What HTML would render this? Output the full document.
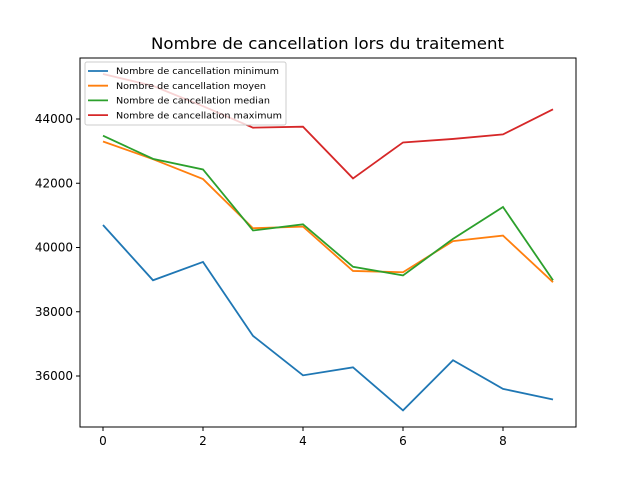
<!DOCTYPE html>
<html><head><meta charset="utf-8"><style>
body{margin:0;background:#fff;font-family:"DejaVu Sans","Liberation Sans",sans-serif}
svg text{font-family:"DejaVu Sans","Liberation Sans",sans-serif}
</style></head><body>
<svg id="c" width="640" height="480" xmlns="http://www.w3.org/2000/svg"></svg>
<script>
const xCats=[0,1,2,3,4,5,6,7,8,9];
const minimum=[40700,38980,39550,37250,36020,36270,34930,36490,35600,35270];
const moyen=[43300,42750,42130,40600,40650,39270,39230,40200,40370,38920];
const median=[43480,42760,42430,40530,40720,39400,39130,40270,41260,38980];
const maximum=[45400,45030,44400,43730,43760,42150,43270,43380,43520,44300];
const xTicks=[0,2,4,6,8];
const yTicks=[36000,38000,40000,42000,44000];
const seriesNames=["Nombre de cancellation minimum","Nombre de cancellation moyen","Nombre de cancellation median","Nombre de cancellation maximum"];
const legendWidths=[163,150,154,166];
const colors=["#1f77b4","#ff7f0e","#2ca02c","#d62728"];
const svg=document.getElementById('c');const NS="http://www.w3.org/2000/svg";
const L=80,R=576,T=58,B=427;
const xs=v=>103+v*50;
const ys=v=>119-(v-44000)*0.032125;
function mk(t,a,p){const e=document.createElementNS(NS,t);for(const k in a)e.setAttribute(k,a[k]);(p||svg).appendChild(e);return e;}
const title=mk('text',{x:151,y:49,'font-size':16,fill:'#000',textLength:353,lengthAdjust:'spacingAndGlyphs'});title.textContent="Nombre de cancellation lors du traitement";


[minimum,moyen,median,maximum].forEach((s,i)=>{
 const p=mk('polyline',{points:s.map((v,j)=>xs(xCats[j])+','+ys(v)).join(' '),fill:'none',stroke:colors[i],'stroke-width':1.8});
 
 
});
const frame=mk('rect',{x:L,y:T,width:R-L,height:B-T,fill:'none',stroke:'#000','stroke-width':1});


xTicks.forEach(t=>{mk('line',{x1:xs(t),x2:xs(t),y1:B,y2:B+4,stroke:'#000'});
 const tx=mk('text',{x:xs(t),y:B+18,'text-anchor':'middle','font-size':12});tx.textContent=t;
 
 });
yTicks.forEach(t=>{mk('line',{x1:L-4,x2:L,y1:ys(t),y2:ys(t),stroke:'#000'});
 const tx=mk('text',{x:L-7,y:ys(t)+4,'text-anchor':'end','font-size':12});tx.textContent=t;
 
 });
const lg=mk('g',{});


mk('rect',{x:85,y:62,width:201,height:63,rx:2,fill:'rgba(255,255,255,0.8)',stroke:'#ccc'},lg);
seriesNames.forEach((n,i)=>{const y=71+i*14.7;
 mk('line',{x1:88,x2:108,y1:y,y2:y,stroke:colors[i],'stroke-width':1.8},lg);
 const t=mk('text',{x:116,y:y+3.2,'font-size':9,textLength:legendWidths[i],lengthAdjust:'spacingAndGlyphs'},lg);t.textContent=n;
 
 });
</script>
</body></html>
